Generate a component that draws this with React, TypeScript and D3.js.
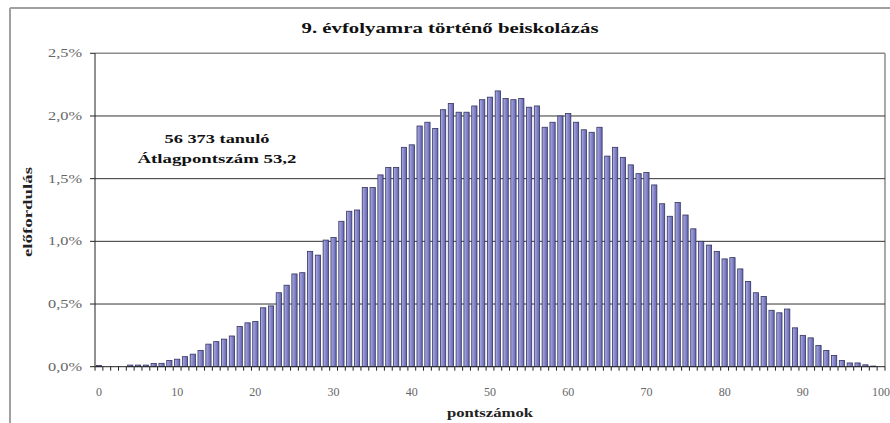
import React from 'react';
import * as d3 from 'd3';

// score points 0..100
const scores = [
  0, 1, 2, 3, 4, 5, 6, 7, 8, 9,
  10, 11, 12, 13, 14, 15, 16, 17, 18, 19,
  20, 21, 22, 23, 24, 25, 26, 27, 28, 29,
  30, 31, 32, 33, 34, 35, 36, 37, 38, 39,
  40, 41, 42, 43, 44, 45, 46, 47, 48, 49,
  50, 51, 52, 53, 54, 55, 56, 57, 58, 59,
  60, 61, 62, 63, 64, 65, 66, 67, 68, 69,
  70, 71, 72, 73, 74, 75, 76, 77, 78, 79,
  80, 81, 82, 83, 84, 85, 86, 87, 88, 89,
  90, 91, 92, 93, 94, 95, 96, 97, 98, 99,
  100,
];

// előfordulás, in percent
const frequency = [
  0.01, 0, 0, 0, 0.013, 0.013, 0.013, 0.025, 0.027, 0.05,
  0.06, 0.08, 0.1, 0.13, 0.18, 0.2, 0.22, 0.245, 0.32, 0.35,
  0.36, 0.47, 0.485, 0.59, 0.65, 0.74, 0.75, 0.92, 0.89, 1.01,
  1.03, 1.16, 1.24, 1.25, 1.43, 1.43, 1.53, 1.59, 1.59, 1.75,
  1.77, 1.92, 1.95, 1.9, 2.05, 2.1, 2.03, 2.03, 2.08, 2.13,
  2.15, 2.2, 2.14, 2.13, 2.14, 2.07, 2.08, 1.91, 1.95, 2.0,
  2.02, 1.95, 1.89, 1.87, 1.91, 1.68, 1.75, 1.67, 1.61, 1.54,
  1.55, 1.45, 1.3, 1.2, 1.31, 1.21, 1.1, 1.0, 0.97, 0.92,
  0.86, 0.87, 0.78, 0.68, 0.59, 0.56, 0.45, 0.43, 0.46, 0.31,
  0.25, 0.23, 0.17, 0.13, 0.09, 0.05, 0.03, 0.03, 0.015, 0.005,
  0,
];

const xTickValues = [0, 10, 20, 30, 40, 50, 60, 70, 80, 90, 100];
const yTickValues = [0, 0.5, 1, 1.5, 2, 2.5];

const title = '9. évfolyamra történő beiskolázás';
const noteLines = ['56 373 tanuló', 'Átlagpontszám 53,2'];
const xTitle = 'pontszámok';
const yTitle = 'előfordulás';

const FONT = "'Liberation Serif', 'Times New Roman', serif";

export default function App() {
  const width = 890;
  const height = 423;
  const plot = { left: 95, right: 885, top: 53.3, bottom: 366.7 };

  const xScale = d3
    .scaleBand<number>()
    .domain(scores)
    .range([plot.left, plot.right])
    .paddingInner(0.33)
    .paddingOuter(0.17);

  const yScale = d3
    .scaleLinear()
    .domain([0, 2.5])
    .range([plot.bottom, plot.top]);

  const step = xScale.step();
  const fmt = (v: number) => d3.format('.1f')(v).replace('.', ',') + '%';

  // tick marks at every band boundary
  const boundaries = scores.map((s) => xScale(s)! - step * xScale.paddingInner() / 2);
  boundaries.push(plot.right);

  const bars = scores.map((s, i) => (
    <rect
      key={s}
      x={xScale(s)}
      y={yScale(frequency[i])}
      width={xScale.bandwidth()}
      height={plot.bottom - yScale(frequency[i])}
      fill="url(#barFill)"
      stroke="#34345f"
      strokeWidth={0.8}
    />
  ));

  return (
    <svg
      width={width}
      height={height}
      style={{ position: 'absolute', left: 0, top: 0, background: '#fff', fontFamily: FONT }}
    >
      <defs>
        <linearGradient id="barFill" x1="0" x2="1" y1="0" y2="0">
          <stop offset="0" stopColor="#b0b0e4" />
          <stop offset="0.5" stopColor="#8686cc" />
          <stop offset="1" stopColor="#6464ae" />
        </linearGradient>
      </defs>

      {/* outer frame */}
      <line x1={10} x2={890} y1={8} y2={8} stroke="#a0a0a0" strokeWidth={2} />
      <line x1={10} x2={10} y1={8} y2={423} stroke="#a0a0a0" strokeWidth={2} />

      <text x={450} y={33} textAnchor="middle" fontSize={15} fontWeight="bold"
        textLength={297} lengthAdjust="spacingAndGlyphs" fill="#111">
        {title}
      </text>

      {/* plot border */}
      <line x1={plot.left} x2={plot.right} y1={plot.top} y2={plot.top} stroke="#8c8c8c" strokeWidth={1.5} />
      <line x1={plot.right} x2={plot.right} y1={plot.top} y2={plot.bottom} stroke="#8c8c8c" strokeWidth={1.5} />

      {/* gridlines */}
      {yTickValues.slice(1, -1).map((v) => (
        <line key={v} x1={plot.left} x2={plot.right} y1={yScale(v)} y2={yScale(v)}
          stroke="#333" strokeWidth={1} />
      ))}

      {bars}

      {/* axes */}
      <line x1={plot.left} x2={plot.left} y1={plot.top} y2={plot.bottom} stroke="#222" strokeWidth={1} />
      <line x1={plot.left} x2={plot.right} y1={plot.bottom} y2={plot.bottom} stroke="#222" strokeWidth={1} />

      {yTickValues.map((v) => (
        <g key={v}>
          <line x1={plot.left - 5} x2={plot.left} y1={yScale(v)} y2={yScale(v)} stroke="#222" />
          <text x={82} y={yScale(v) + 4} textAnchor="end" fontSize={12}
            textLength={34} lengthAdjust="spacingAndGlyphs" fill="#666">
            {fmt(v)}
          </text>
        </g>
      ))}

      {boundaries.map((bx, i) => (
        <line key={i} x1={bx} x2={bx} y1={plot.bottom} y2={plot.bottom + 4} stroke="#222" />
      ))}

      {xTickValues.map((v) => (
        <text key={v} x={xScale(v)! + xScale.bandwidth() / 2} y={396} textAnchor="middle"
          fontSize={12} fill="#666">
          {v}
        </text>
      ))}

      <text x={(plot.left + plot.right) / 2} y={417} textAnchor="middle" fontSize={12}
        fontWeight="bold" textLength={86} lengthAdjust="spacingAndGlyphs" fill="#222">
        {xTitle}
      </text>

      <text transform={`translate(32, 212) rotate(-90)`} textAnchor="middle" fontSize={12}
        fontWeight="bold" textLength={90} lengthAdjust="spacingAndGlyphs" fill="#222">
        {yTitle}
      </text>

      <text x={217} y={143} textAnchor="middle" fontSize={13} fontWeight="bold"
        textLength={105} lengthAdjust="spacingAndGlyphs" fill="#111">
        {noteLines[0]}
      </text>
      <text x={217} y={163} textAnchor="middle" fontSize={13} fontWeight="bold"
        textLength={159} lengthAdjust="spacingAndGlyphs" fill="#111">
        {noteLines[1]}
      </text>
    </svg>
  );
}
